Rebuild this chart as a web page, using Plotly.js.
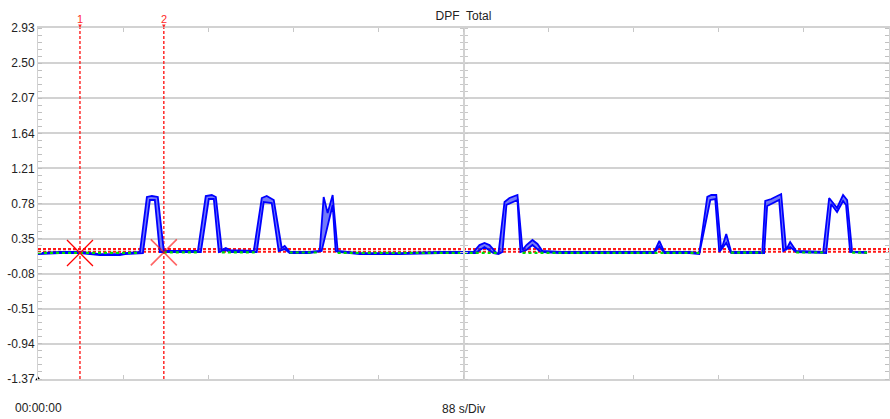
<!DOCTYPE html>
<html>
<head>
<meta charset="utf-8">
<script src="https://cdn.plot.ly/plotly-3.0.1.min.js"></script>
<style>html,body{margin:0;padding:0;background:#fff;}#chart{width:890px;height:419px;}</style>
</head>
<body>
<div id="chart"></div>
<script>
// ---- data (time in seconds, value) ----
const yTicks = [-1.37, -0.94, -0.51, -0.08, 0.35, 0.78, 1.21, 1.64, 2.07, 2.50, 2.93];
const yTickText = ["-1.37", "-0.94", "-0.51", "-0.08", "0.35", "0.78", "1.21", "1.64", "2.07", "2.50", "2.93"];
const xDivs = [0, 88, 176, 264, 352, 440, 528, 616, 704, 792, 880];

// upper envelope
const hiT = [0, 22.7, 43.4, 58.9, 64.0, 84.7, 89.9, 105.4, 112.6, 117.8, 123.9, 130.1, 146.7, 165.3, 173.5, 179.7, 183.9, 190.1, 194.2, 198.3, 223.1, 231.4, 236.5, 243.8, 252.0, 255.1, 260.3, 280.9, 291.3, 295.4, 299.5, 304.7, 309.9, 332.6, 373.9, 415.2, 450.3, 456.5, 461.7, 466.9, 474.1, 476.2, 482.4, 487.5, 495.8, 501.0, 505.1, 511.3, 516.5, 521.6, 539.2, 580.5, 621.8, 637.3, 642.5, 647.6, 673.5, 683.8, 692.1, 696.2, 701.4, 706.5, 711.7, 716.8, 745.8, 748.9, 752.0, 758.2, 768.5, 773.6, 777.8, 784.0, 811.9, 818.1, 826.3, 832.5, 836.7, 841.9, 857.3];
const hiV = [0.173,0.186,0.186,0.173,0.161,0.161,0.173,0.186,0.860,0.872,0.860,0.198,0.198,0.198,0.872,0.884,0.860,0.210,0.235,0.210,0.198,0.847,0.872,0.823,0.235,0.259,0.186,0.186,0.198,0.860,0.664,0.884,0.198,0.173,0.173,0.186,0.186,0.271,0.296,0.271,0.173,0.173,0.798,0.847,0.884,0.210,0.271,0.333,0.284,0.198,0.186,0.186,0.186,0.186,0.321,0.186,0.186,0.173,0.860,0.884,0.884,0.210,0.406,0.186,0.186,0.173,0.811,0.835,0.896,0.210,0.308,0.198,0.186,0.847,0.725,0.884,0.823,0.186,0.186];

// lower envelope
const loT = [0, 22.7, 43.4, 58.9, 64.0, 84.7, 89.9, 108.5, 115.7, 120.8, 126.0, 146.7, 168.4, 176.6, 181.8, 187.0, 194.2, 198.3, 226.2, 233.4, 241.7, 248.9, 255.1, 260.3, 280.9, 293.3, 304.7, 307.8, 309.9, 332.6, 373.9, 415.2, 452.4, 461.7, 471.0, 476.2, 480.3, 484.4, 495.8, 498.9, 505.1, 511.3, 518.5, 521.6, 539.2, 580.5, 621.8, 637.3, 642.5, 647.6, 673.5, 683.8, 695.2, 700.3, 704.5, 711.7, 716.8, 745.8, 750.9, 754.0, 766.4, 770.6, 777.8, 784.0, 815.0, 820.2, 826.3, 832.5, 835.6, 839.8, 857.3];
const loV = [0.161,0.173,0.173,0.161,0.149,0.149,0.161,0.173,0.823,0.823,0.186,0.186,0.186,0.835,0.835,0.186,0.210,0.186,0.186,0.798,0.786,0.198,0.222,0.173,0.173,0.198,0.762,0.198,0.186,0.161,0.161,0.173,0.173,0.247,0.173,0.161,0.186,0.762,0.823,0.186,0.210,0.271,0.198,0.186,0.173,0.173,0.173,0.173,0.259,0.173,0.173,0.161,0.823,0.835,0.186,0.296,0.173,0.173,0.173,0.749,0.823,0.198,0.247,0.186,0.173,0.774,0.676,0.811,0.762,0.186,0.173];

// green reference trace (baseline segments)
const grT = [0, 105.4, null, 130.1, 165.3, null, 190.1, 224.1, null, 260.3, 291.3, null, 309.9, 476.2, null, 501.0, 683.8, null, 716.8, 748.9, null, 784.0, 812.9, null, 841.9, 857.3];
const grV = [0.176, 0.176, null, 0.182, 0.182, null, 0.182, 0.182, null, 0.180, 0.180, null, 0.176, 0.176, null, 0.176, 0.176, null, 0.178, 0.178, null, 0.180, 0.180, null, 0.178, 0.178];

// cursors
const cursorT = [43.4, 130.1];
const cursorV = [0.173, 0.182];
const cursorLabels = ["1", "2"];
// red dotted levels
const levelV = [0.222, 0.190];

const yMin = -1.37, yMax = 2.93, xMin = 0, xMax = 880;
const font = "Liberation Sans, Arial, sans-serif";
const gridC = "#d2d2d2";

const traces = [];
// vertical cursor lines
cursorT.forEach(t => traces.push({x:[t,t], y:[yMin,yMax], mode:'lines', line:{color:'#ff2a2a', width:1.5, dash:'3px,2px'}, hoverinfo:'skip'}));
// level lines
levelV.forEach(v => traces.push({x:[xMin,xMax], y:[v,v], mode:'lines', line:{color:'#ff1a1a', width:2, dash:'3px,2px'}, hoverinfo:'skip'}));
// envelope band
traces.push({x:loT, y:loV, mode:'lines', line:{color:'#0000ff', width:1.8}});
traces.push({x:hiT, y:hiV, mode:'lines', line:{color:'#0000ff', width:1.8}, fill:'tonexty', fillcolor:'rgba(30,40,245,0.62)'});
// green
traces.push({x:grT, y:grV, mode:'lines', connectgaps:false, line:{color:'#00dd00', width:2.2, dash:'3px,3px'}});
// cursor X markers
traces.push({x:[cursorT[0]], y:[cursorV[0]], mode:'markers', marker:{symbol:'x-thin', size:26, line:{color:'#ff0000', width:1.3}}});
traces.push({x:[cursorT[1]], y:[cursorV[1]], mode:'markers', opacity:0.6, marker:{symbol:'x-thin', size:26, line:{color:'#ff0000', width:1.6}}});
// small triangle at origin
traces.push({x:[xMin], y:[yMin], mode:'markers', cliponaxis:false, marker:{symbol:'triangle-up', size:5, color:'#000'}});
// dummy traces for center axes
traces.push({x:[xMin], y:[yMin], yaxis:'y2', mode:'markers', marker:{opacity:0}, hoverinfo:'skip'});
traces.push({x:[xMin], y:[yMin], yaxis:'y3', mode:'markers', marker:{opacity:0}, hoverinfo:'skip'});

const centerAxis = side => ({
  overlaying:'y', anchor:'free', position:0.5, side:side, range:[yMin,yMax], fixedrange:true,
  showgrid:false, zeroline:false, showticklabels:false, showline: side==='left', linecolor:gridC, linewidth:2,
  ticks:'outside', ticklen:3, tickwidth:1, tickcolor:'#c8c8c8', tickmode:'linear', tick0:yMin, dtick:0.086
});

const annotations = cursorT.map((t,i) => ({
  x:t, y:yMax, xref:'x', yref:'y', text:cursorLabels[i], showarrow:true, arrowhead:2, arrowsize:0.7, arrowwidth:1,
  arrowcolor:'#ff2a2a', ax:0, ay:-9, font:{family:font, size:11, color:'#ff2a2a'}
}));
annotations.push({xref:'paper', yref:'paper', x:0, y:0, yshift:-29, xanchor:'center', yanchor:'middle', showarrow:false, text:'00:00:00', font:{family:font, size:12, color:'#222'}});
annotations.push({xref:'paper', yref:'paper', x:0.5, y:0, yshift:-30, xanchor:'center', yanchor:'middle', showarrow:false, text:'88 s/Div', font:{family:font, size:12, color:'#222'}});

const layout = {
  width:890, height:419,
  margin:{l:38, r:1, t:28, b:40},
  paper_bgcolor:'#fff', plot_bgcolor:'#fff',
  showlegend:false,
  title:{text:'DPF\u00a0 Total', x:0.5, xref:'paper', xanchor:'center', y:1-16/419, yref:'container', yanchor:'middle', font:{family:font, size:12, color:'#222'}},
  xaxis:{range:[xMin,xMax], fixedrange:true, showgrid:false, zeroline:false, showticklabels:false,
    tickmode:'array', tickvals:xDivs, ticks:'inside', ticklen:4, tickwidth:1, tickcolor:'#c8c8c8',
    showline:true, linecolor:gridC, linewidth:2, mirror:'ticks'},
  yaxis:{range:[yMin,yMax], fixedrange:true, tickmode:'array', tickvals:yTicks, ticktext:yTickText,
    showgrid:true, gridcolor:gridC, gridwidth:2, zeroline:false,
    showline:true, linecolor:gridC, linewidth:1, mirror:'ticks', ticks:'',
    tickfont:{family:font, size:12, color:'#222'},
    minor:{tickmode:'linear', tick0:yMin, dtick:0.086, ticks:'inside', ticklen:4, tickwidth:1, tickcolor:'#c0c0c0', showgrid:false}},
  yaxis2:centerAxis('left'),
  yaxis3:centerAxis('right'),
  annotations:annotations
};

Plotly.newPlot('chart', traces, layout, {staticPlot:true, displayModeBar:false});
</script>
</body>
</html>
